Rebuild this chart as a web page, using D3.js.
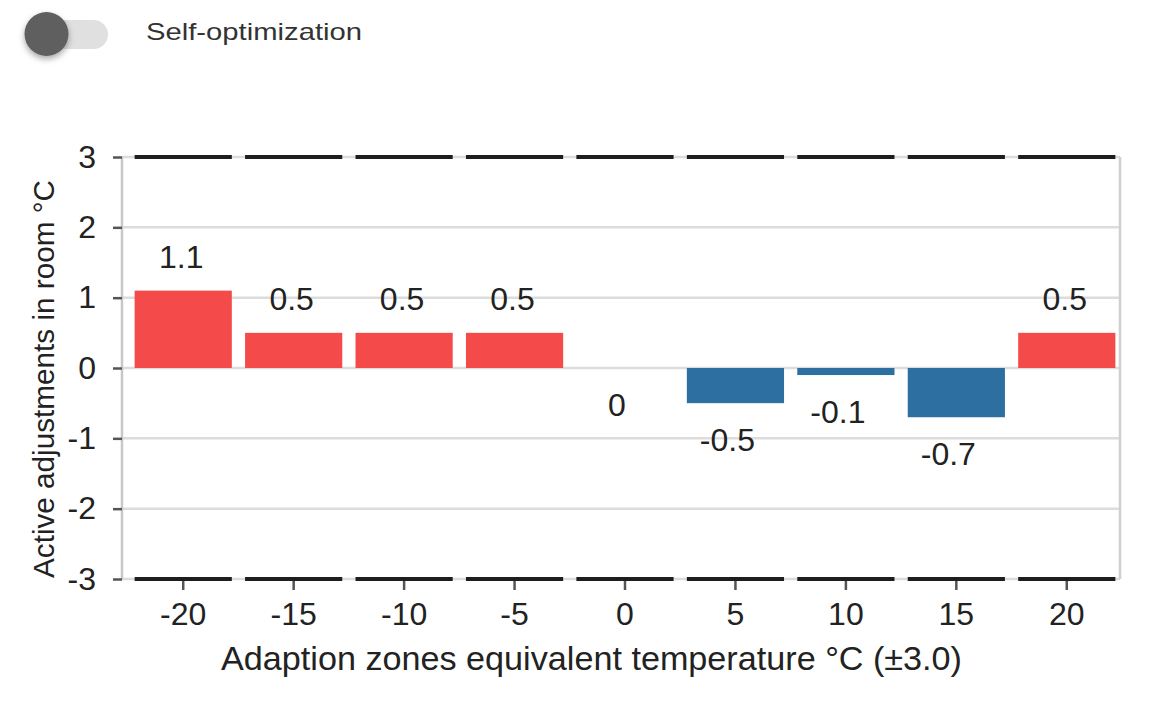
<!DOCTYPE html>
<html>
<head>
<meta charset="utf-8">
<script src="https://cdn.jsdelivr.net/npm/d3@7"></script>
<style>
  html, body { margin: 0; padding: 0; background: #fff; }
  svg { display: block; font-family: "Liberation Sans", Arial, sans-serif; }
</style>
</head>
<body>
<svg id="chart" width="1151" height="704"></svg>
<script>
const categories = ["-20", "-15", "-10", "-5", "0", "5", "10", "15", "20"];
const values = [1.1, 0.5, 0.5, 0.5, 0, -0.5, -0.1, -0.7, 0.5];
const valueLabels = ["1.1", "0.5", "0.5", "0.5", "0", "-0.5", "-0.1", "-0.7", "0.5"];
const yTicks = [-3, -2, -1, 0, 1, 2, 3];
const yTickLabels = ["-3", "-2", "-1", "0", "1", "2", "3"];
const limitHigh = 3;
const limitLow = -3;
const toggleLabel = "Self-optimization";
const xTitle = "Adaption zones equivalent temperature °C (±3.0)";
const yTitle = "Active adjustments in room °C";

const FONT = "Liberation Sans, Arial, sans-serif";
const svg = d3.select("#chart");
const plot = { left: 122, right: 1120, top: 157, bottom: 579 };

const x = d3.scaleBand().domain(categories).range([128, 1122]).paddingInner(0.12).paddingOuter(0.06);
const y = d3.scaleLinear().domain([-3, 3]).range([plot.bottom, plot.top]);

// Toggle
const defs = svg.append("defs");
const f = defs.append("filter").attr("id", "sh").attr("x", "-50%").attr("y", "-50%").attr("width", "200%").attr("height", "200%");
f.append("feDropShadow").attr("dx", 0).attr("dy", 3).attr("stdDeviation", 3).attr("flood-color", "#000").attr("flood-opacity", 0.35);
const tg = svg.append("g");
tg.append("rect").attr("x", 42).attr("y", 20).attr("width", 66).attr("height", 29).attr("rx", 14.5).attr("fill", "#e0e0e0");
tg.append("circle").attr("cx", 46.5).attr("cy", 34).attr("r", 22).attr("fill", "#5f5f5f").attr("filter", "url(#sh)");
svg.append("text").attr("x", 146).attr("y", 40).attr("font-size", 24)
  .attr("textLength", 216).attr("lengthAdjust", "spacingAndGlyphs")
  .attr("fill", "#333").text(toggleLabel);

// Gridlines
svg.append("g").selectAll("line").data(yTicks).join("line")
  .attr("x1", plot.left).attr("x2", plot.right)
  .attr("y1", d => y(d)).attr("y2", d => y(d))
  .attr("stroke", "#dcdcdc").attr("stroke-width", 2.5);

// Right border
svg.append("line").attr("x1", plot.right).attr("x2", plot.right).attr("y1", plot.top).attr("y2", plot.bottom)
  .attr("stroke", "#cfcfcf").attr("stroke-width", 2.5);

// Y axis
const yAxis = svg.append("g").attr("transform", `translate(${plot.left},0)`)
  .call(d3.axisLeft(y).tickValues(yTicks).tickFormat((d, i) => yTickLabels[i]).tickSize(9).tickPadding(17));
yAxis.select(".domain").attr("stroke", "#c8c8c8").attr("stroke-width", 2.5).attr("d", `M0,${plot.top}V${plot.bottom}`);
yAxis.selectAll(".tick line").attr("stroke", "#555").attr("stroke-width", 2.5);
yAxis.selectAll(".tick text").attr("font-size", 32).attr("fill", "#222").attr("font-family", FONT);

// X axis
const xAxis = svg.append("g").attr("transform", `translate(0,${plot.bottom})`)
  .call(d3.axisBottom(x).tickSize(11).tickPadding(12));
xAxis.select(".domain").remove();
xAxis.selectAll(".tick line").attr("stroke", "#555").attr("stroke-width", 2.5);
xAxis.selectAll(".tick text").attr("font-size", 32).attr("fill", "#222").attr("font-family", FONT);

// Bars
svg.append("g").selectAll("rect").data(values).join("rect")
  .attr("x", (d, i) => x(categories[i]))
  .attr("width", x.bandwidth())
  .attr("y", d => y(Math.max(0, d)))
  .attr("height", d => Math.abs(y(d) - y(0)))
  .attr("fill", d => d > 0 ? "#f44a4a" : "#2e6fa2");

// Limit lines
const lims = svg.append("g");
[limitHigh, limitLow].forEach(L => {
  lims.selectAll(null).data(categories).join("line")
    .attr("x1", d => x(d)).attr("x2", d => x(d) + x.bandwidth())
    .attr("y1", y(L)).attr("y2", y(L))
    .attr("stroke", "#1e1e1e").attr("stroke-width", 4);
});

// Value labels
svg.append("g").selectAll("text").data(values).join("text")
  .attr("x", (d, i) => x(categories[i]) + x.bandwidth() / 2 + (d > 0 ? -2 : -8))
  .attr("y", d => d > 0 ? y(d) - 23 : y(Math.min(0, d)) + 48)
  .attr("text-anchor", "middle").attr("font-size", 32).attr("fill", "#222")
  .text((d, i) => valueLabels[i]);

// Titles
svg.append("text").attr("x", 591.5).attr("y", 670).attr("text-anchor", "middle")
  .attr("font-size", 34).attr("textLength", 741).attr("lengthAdjust", "spacingAndGlyphs")
  .attr("fill", "#222").text(xTitle);
svg.append("text").attr("transform", "translate(54,379) rotate(-90)").attr("text-anchor", "middle")
  .attr("font-size", 30).attr("textLength", 398).attr("lengthAdjust", "spacingAndGlyphs")
  .attr("fill", "#222").text(yTitle);
</script>
</body>
</html>
